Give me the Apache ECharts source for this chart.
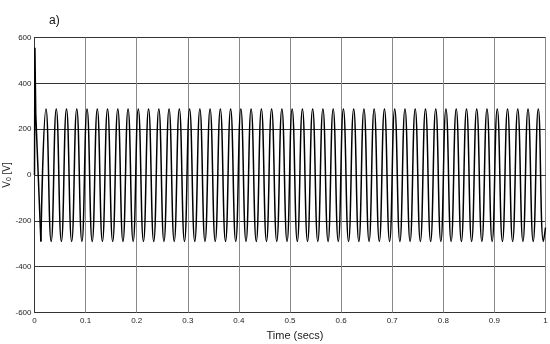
<!DOCTYPE html>
<html>
<head>
<meta charset="utf-8">
<script src="https://cdn.jsdelivr.net/npm/echarts@6/dist/echarts.min.js"></script>
<style>html,body{margin:0;padding:0;background:#fff}#c{width:550px;height:344px}</style>
</head>
<body>
<div id="c"></div>
<script>
// ---- data ----
const xTicks = [0, 0.1, 0.2, 0.3, 0.4, 0.5, 0.6, 0.7, 0.8, 0.9, 1];
const yTicks = [-600, -400, -200, 0, 200, 400, 600];

// start-up transient (time s, voltage V)
const startTimes  = [0, 0.0008, 0.0025];
const startValues = [0, 555, 265];

// steady-state extrema
const troughTimes = [0.0125,0.0326,0.0526,0.0727,0.0928,0.1129,0.1329,0.1530,0.1731,0.1931,
  0.2132,0.2333,0.2533,0.2734,0.2935,0.3136,0.3336,0.3537,0.3738,0.3938,
  0.4139,0.4340,0.4540,0.4741,0.4942,0.5143,0.5343,0.5544,0.5745,0.5945,
  0.6146,0.6347,0.6547,0.6748,0.6949,0.7150,0.7350,0.7551,0.7752,0.7952,
  0.8153,0.8354,0.8554,0.8755,0.8956,0.9157,0.9357,0.9558,0.9759,0.9959];
const peakTimes = [0.0225,0.0426,0.0626,0.0827,0.1028,0.1229,0.1429,0.1630,0.1831,0.2031,
  0.2232,0.2433,0.2633,0.2834,0.3035,0.3236,0.3436,0.3637,0.3838,0.4038,
  0.4239,0.4440,0.4640,0.4841,0.5042,0.5243,0.5443,0.5644,0.5845,0.6045,
  0.6246,0.6447,0.6647,0.6848,0.7049,0.7250,0.7450,0.7651,0.7852,0.8052,
  0.8253,0.8454,0.8654,0.8855,0.9056,0.9257,0.9457,0.9658,0.9859];
const peakValue = 288;
const troughValue = -290;
const endTime = 1.0, endValue = -230;

// ---- build series data ----
const transient = startTimes.map((t, i) => [t, startValues[i]]);
transient.push([troughTimes[0], troughValue]);

const wave = [];
troughTimes.forEach(t => wave.push([t, troughValue]));
peakTimes.forEach(t => wave.push([t, peakValue]));
wave.sort((a, b) => a[0] - b[0]);
wave.push([endTime, endValue]);

const chart = echarts.init(document.getElementById('c'), null, {renderer: 'canvas'});
const font = 'Liberation Sans, Arial, sans-serif';
chart.setOption({
  animation: false,
  backgroundColor: '#fff',
  title: {
    text: 'a)', left: 44, top: 10,
    textStyle: {fontFamily: font, fontSize: 12, fontWeight: 'normal', color: '#111'}
  },
  graphic: [{
    type: 'text', x: 7.5, y: 175, rotation: Math.PI / 2,
    style: {
      text: 'V{s|0} [V]', fill: '#222', font: '10px ' + font,
      align: 'center', verticalAlign: 'middle',
      rich: {s: {fontFamily: font, fontSize: 7, fill: '#222', verticalAlign: 'bottom', padding: [3, 0, 0, 0]}}
    }
  }],
  grid: {
    left: 34.5, right: 4.5, top: 37.5, bottom: 31.5,
    outerBoundsMode: 'none', containLabel: false,
    show: true, borderColor: '#333', borderWidth: 1, backgroundColor: 'transparent'
  },
  xAxis: {
    type: 'value', min: 0, max: 1, interval: 0.1,
    name: 'Time (secs)', nameLocation: 'middle', nameGap: 18,
    nameTextStyle: {fontFamily: font, fontSize: 11, color: '#222', padding: [0, 0, 0, 10]},
    axisLine: {show: true, lineStyle: {color: '#333', width: 1}},
    axisTick: {show: false},
    axisLabel: {fontFamily: font, fontSize: 8, color: '#222', margin: 4,
      formatter: v => String(+v.toFixed(1))},
    splitLine: {show: true, lineStyle: {color: '#888', width: 1}}
  },
  yAxis: {
    type: 'value', min: -600, max: 600, interval: 200,
    axisLine: {show: true, lineStyle: {color: '#333', width: 1}},
    axisTick: {show: false},
    axisLabel: {fontFamily: font, fontSize: 8, color: '#222', margin: 3},
    splitLine: {show: true, lineStyle: {color: '#333', width: 1}}
  },
  series: [
    {
      type: 'line', data: transient, showSymbol: false, symbol: 'none',
      lineStyle: {color: '#000', width: 1.5}, z: 3
    },
    {
      type: 'line', data: wave, showSymbol: false, symbol: 'none', smooth: 0.5,
      lineStyle: {color: '#000', width: 1.5}, z: 3
    }
  ]
});
</script>
</body>
</html>
